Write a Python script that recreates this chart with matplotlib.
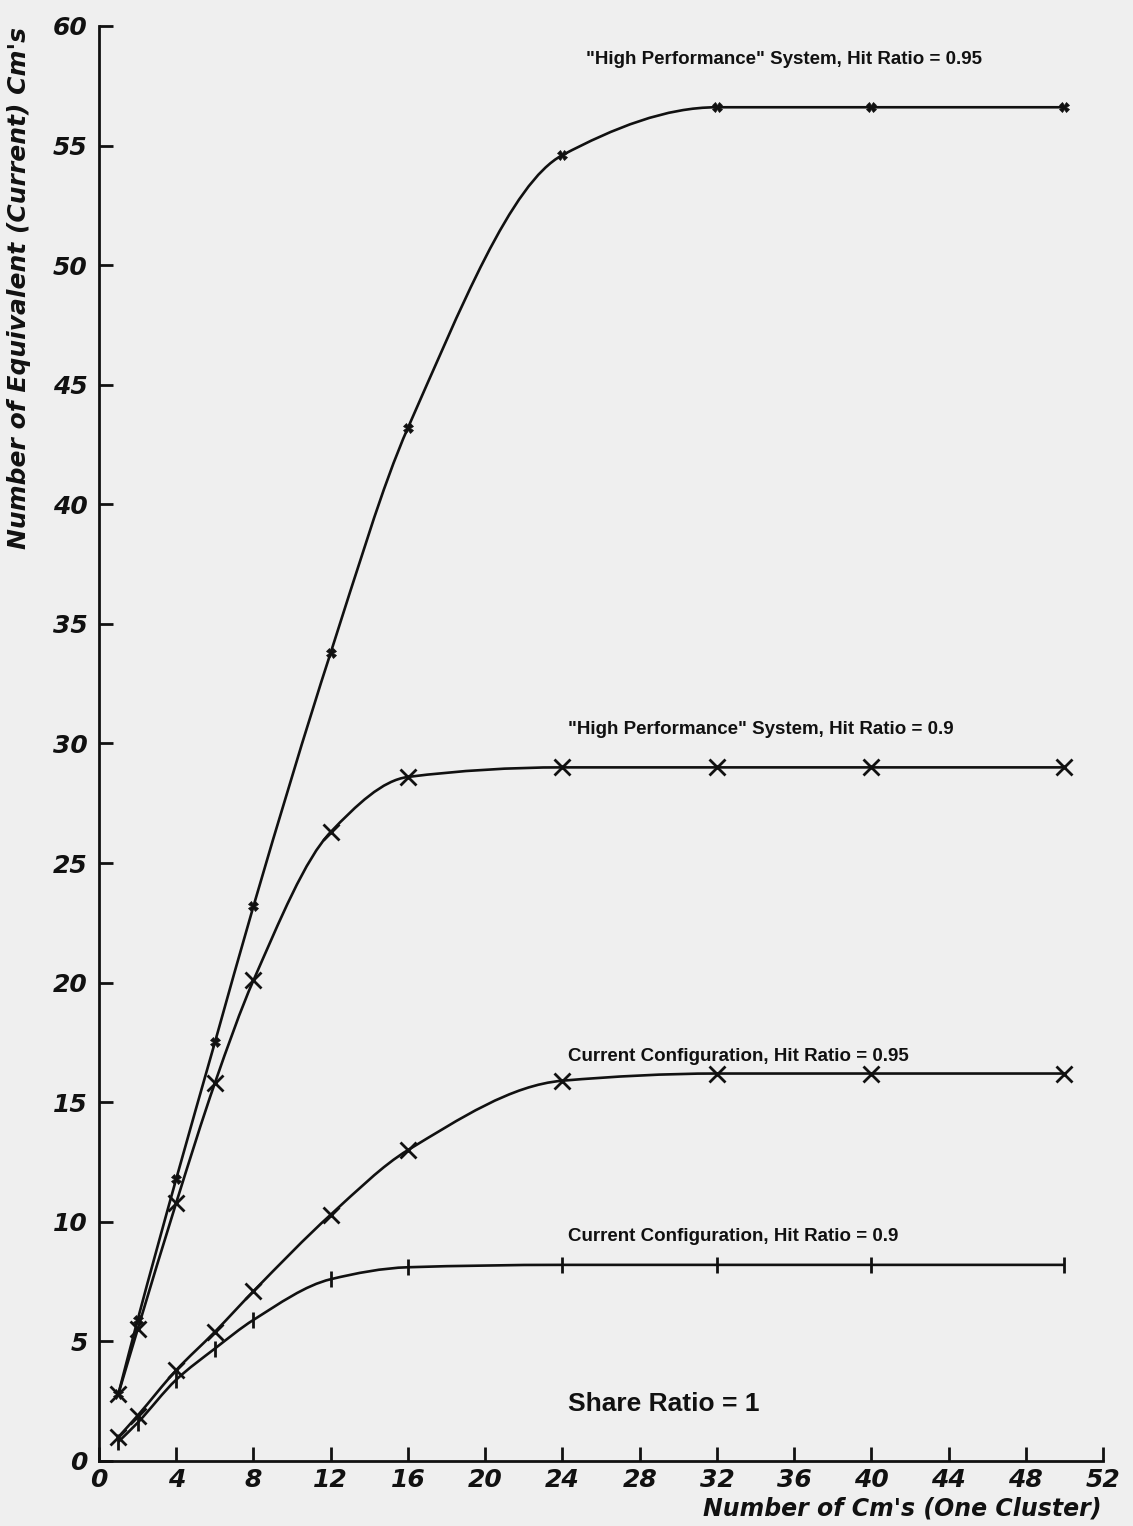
import numpy as np
import matplotlib.pyplot as plt
from matplotlib.path import Path
from matplotlib.patches import PathPatch

# number of Cm's in one cluster
cms = [1, 2, 4, 6, 8, 12, 16, 24, 32, 40, 50]

# equivalent (current) Cm's
hp_095 = [2.8, 5.9, 11.8, 17.5, 23.2, 33.8, 43.2, 54.6, 56.6, 56.6, 56.6]
hp_090 = [2.8, 5.5, 10.8, 15.8, 20.1, 26.3, 28.6, 29.0, 29.0, 29.0, 29.0]
cur_095 = [1.0, 1.9, 3.8, 5.4, 7.1, 10.3, 13.0, 15.9, 16.2, 16.2, 16.2]
cur_090 = [0.8, 1.6, 3.4, 4.7, 5.9, 7.6, 8.1, 8.2, 8.2, 8.2, 8.2]

labels = ['"High Performance" System, Hit Ratio = 0.95',
          '"High Performance" System, Hit Ratio = 0.9',
          'Current Configuration, Hit Ratio = 0.95',
          'Current Configuration, Hit Ratio = 0.9']
label_x = [25.2, 24.3, 24.3, 24.3]
label_y = [58.6, 30.6, 16.9, 9.4]

xticks = list(range(0, 53, 4))
yticks = list(range(0, 61, 5))

paper = "#efefef"
ink = "#111111"


def smooth_path(x, y):
    # monotone cubic (Fritsch-Carlson) drawn as bezier segments
    x = np.asarray(x, float)
    y = np.asarray(y, float)
    h = np.diff(x)
    d = np.diff(y) / h
    m = np.zeros_like(y)
    m[0], m[-1] = d[0], d[-1]
    for i in range(1, len(x) - 1):
        if d[i - 1] * d[i] <= 0:
            m[i] = 0
        else:
            w1 = 2 * h[i] + h[i - 1]
            w2 = h[i] + 2 * h[i - 1]
            m[i] = (w1 + w2) / (w1 / d[i - 1] + w2 / d[i])
    verts = [(x[0], y[0])]
    codes = [Path.MOVETO]
    for i in range(len(x) - 1):
        verts += [(x[i] + h[i] / 3, y[i] + m[i] * h[i] / 3),
                  (x[i + 1] - h[i] / 3, y[i + 1] - m[i + 1] * h[i] / 3),
                  (x[i + 1], y[i + 1])]
        codes += [Path.CURVE4] * 3
    return Path(verts, codes)


fig = plt.figure(figsize=(11.33, 15.26), dpi=100, facecolor=paper)
ax = fig.add_axes([0.0874, 0.0426, 0.8862, 0.9404])
ax.set_facecolor(paper)

series = [(hp_095, "X", 7, 0.5), (hp_090, "x", 11, 2),
          (cur_095, "x", 11, 2), (cur_090, "|", 11, 2)]
for vals, mk, ms, mew in series:
    ax.add_patch(PathPatch(smooth_path(cms, vals), fill=False, ec=ink, lw=1.9))
    ax.plot(cms, vals, ls="none", color=ink, marker=mk, ms=ms, mew=mew)

for txt, xx, yy in zip(labels, label_x, label_y):
    ax.text(xx, yy, txt, fontsize=13.5, fontweight="bold",
            family="Liberation Sans", color=ink, va="center")
ax.text(24.3, 2.4, "Share Ratio = 1", fontsize=19, fontweight="bold",
        family="Liberation Sans", color=ink, va="center")

ax.set_xlim(0, 52)
ax.set_ylim(0, 60)
ax.set_xticks(xticks)
ax.set_yticks(yticks)
for s in ["top", "right"]:
    ax.spines[s].set_visible(False)
for s in ["left", "bottom"]:
    ax.spines[s].set_linewidth(2)
    ax.spines[s].set_color(ink)
ax.tick_params(direction="in", length=10, width=2, colors=ink, labelsize=18)
ax.tick_params(axis="x", pad=5)
ax.tick_params(axis="y", pad=8)
for lab in ax.get_xticklabels() + ax.get_yticklabels():
    lab.set_fontweight("bold")
    lab.set_fontstyle("italic")

fig.text(0.972, 0.0115, "Number of Cm's (One Cluster)", ha="right", va="center",
         fontsize=17, fontweight="bold", fontstyle="italic", color=ink)
fig.text(0.017, 0.982, "Number of Equivalent (Current) Cm's", ha="center", va="top",
         rotation=90, fontsize=18, fontweight="bold", fontstyle="italic", color=ink)

plt.savefig("out.png", facecolor=paper)
